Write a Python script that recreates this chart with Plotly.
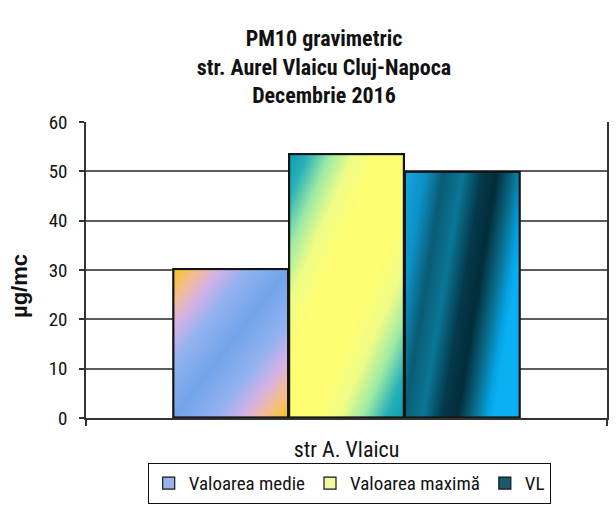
import base64
import plotly.graph_objects as go

# ---- data -------------------------------------------------------------
category = ["str A. Vlaicu"]
series_names = ["Valoarea medie", "Valoarea maximă", "VL"]
series_values = [30.3, 53.6, 50.0]
y_tick_values = [0, 10, 20, 30, 40, 50, 60]

# ---- styles -----------------------------------------------------------
swatch_colors = ["#9db4ea", "#f6f7a4", "#1b5a6c"]
# gradient stops (offset, colour) and direction (x1, y1, x2, y2) per bar
gradient_stops = [
    [(0.0, "#f7c51a"), (0.10, "#f4bd8c"), (0.20, "#d4b2e6"), (0.32, "#93b2f0"),
     (0.5, "#72a4ea"), (0.68, "#93b2f0"), (0.80, "#d4b2e6"), (0.90, "#f4bd8c"),
     (1.0, "#f7c51a")],
    [(0.0, "#0c9db0"), (0.08, "#27b0b6"), (0.18, "#9eeaa6"), (0.28, "#eefc86"),
     (0.40, "#fffd72"), (0.60, "#fffd72"), (0.72, "#eefc86"), (0.82, "#9eeaa6"),
     (0.92, "#27b0b6"), (1.0, "#0c9db0")],
    [(0.0, "#16a6dc"), (0.15, "#0c92c8"), (0.30, "#0a5c74"), (0.45, "#0a7696"),
     (0.60, "#04394a"), (0.72, "#032d3a"), (0.85, "#0a6e8e"), (0.95, "#05a2e2"),
     (1.0, "#0ab0f2")],
]
gradient_vectors = [(0, 0, 1, 1), (0, 0, 1, 1), (0, 0, 1, 0.35)]

narrow = "Roboto Condensed, Liberation Sans"
regular = "Liberation Sans, Arial, sans-serif"

W, H = 616, 507
margin = dict(l=86, r=9, t=122, b=89)
plot_w = W - margin["l"] - margin["r"]
plot_h = H - margin["t"] - margin["b"]
y_max = 60
bargap = 1 / 3


def gradient_svg(w, h, stops, vec):
    x1, y1, x2, y2 = vec
    stop_tags = "".join(
        f'<stop offset="{o}" stop-color="{c}"/>' for o, c in stops
    )
    svg = (
        f'<svg xmlns="http://www.w3.org/2000/svg" width="{w:.1f}" height="{h:.1f}" '
        f'viewBox="0 0 {w:.2f} {h:.2f}" preserveAspectRatio="none">'
        f'<defs><linearGradient id="g" x1="{x1}" y1="{y1}" x2="{x2}" y2="{y2}">'
        f"{stop_tags}</linearGradient></defs>"
        f'<rect x="0.8" y="0.8" width="{w - 1.6:.2f}" height="{h - 1.6:.2f}" '
        f'fill="url(#g)" stroke="#151515" stroke-width="1.6"/></svg>'
    )
    return "data:image/svg+xml;base64," + base64.b64encode(svg.encode()).decode()


fig = go.Figure()
for name, value, color in zip(series_names, series_values, swatch_colors):
    fig.add_trace(
        go.Bar(
            x=category,
            y=[value],
            name=name,
            marker=dict(color=color, line=dict(color="#151515", width=1.2)),
            hoverinfo="skip",
        )
    )

# gradient faces laid over each bar, positioned in axis units
bar_w = (1 - bargap) / len(series_values)
images = []
for i, value in enumerate(series_values):
    x_left = -(1 - bargap) / 2 + i * bar_w
    w_px = bar_w * plot_w
    h_px = value / y_max * plot_h
    images.append(
        dict(
            source=gradient_svg(w_px, h_px, gradient_stops[i], gradient_vectors[i]),
            xref="x", yref="y",
            x=x_left, y=value,
            sizex=bar_w, sizey=value,
            xanchor="left", yanchor="top",
            sizing="stretch", layer="above",
        )
    )

fig.update_layout(
    width=W,
    height=H,
    margin=margin,
    paper_bgcolor="white",
    plot_bgcolor="white",
    barmode="group",
    bargap=bargap,
    bargroupgap=0,
    images=images,
    title=dict(
        text="PM10 gravimetric<br>str. Aurel Vlaicu Cluj-Napoca<br>Decembrie 2016",
        font=dict(family=narrow, size=22, color="#111", weight="bold"),
        xref="container", x=324 / W, xanchor="center",
        yref="container", y=1 - 46 / H, yanchor="top",
        automargin=False,
    ),
    xaxis=dict(
        type="category",
        range=[-0.5, 0.5],
        automargin=False,
        showline=True, linecolor="#333", linewidth=1.5,
        ticks="outside", tickson="boundaries", ticklen=6,
        tickcolor="#333", tickwidth=1.5,
        showgrid=False,
        tickfont=dict(family=narrow, size=22, color="#111"),
        ticklabelstandoff=11,
    ),
    yaxis=dict(
        range=[0, y_max],
        tickvals=y_tick_values,
        automargin=False,
        showline=True, linecolor="#333", linewidth=1.5, mirror=True,
        ticks="outside", ticklen=5, tickcolor="#333", tickwidth=1.5,
        showgrid=True, gridcolor="#5c5c5c", gridwidth=1.5,
        zeroline=False,
        tickfont=dict(family=narrow, size=19, color="#111"),
        ticklabelstandoff=8,
    ),
    legend=dict(
        orientation="h",
        xref="container", x=349.5 / W, xanchor="center",
        yref="container", y=1 - 463 / H, yanchor="top",
        bordercolor="#111", borderwidth=1.2, bgcolor="rgba(255,255,255,0)",
        font=dict(family=narrow, size=19, color="#111"),
        traceorder="normal",
    ),
    annotations=[
        dict(
            text="µg/mc",
            textangle=-90,
            xref="paper", yref="paper",
            x=(19 - margin["l"]) / plot_w,
            y=(H - margin["b"] - 286) / plot_h,
            xanchor="center", yanchor="middle",
            showarrow=False,
            font=dict(family=regular, size=22, color="#111", weight="bold"),
        )
    ],
)

fig.write_html("out.html")
